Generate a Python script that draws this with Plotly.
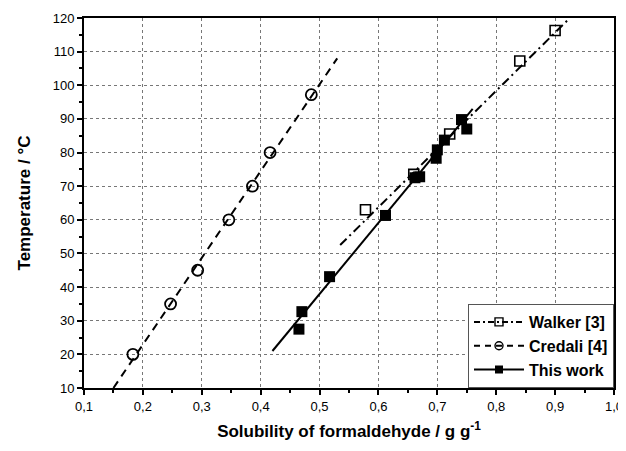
import plotly.graph_objects as go

# Data
walker_x = [0.578, 0.660, 0.721, 0.840, 0.900]
walker_y = [63.0, 73.5, 85.5, 107.2, 116.3]
walker_fit_x = [0.535, 0.925]
walker_fit_y = [52.5, 120.0]

credali_x = [0.183, 0.247, 0.293, 0.346, 0.386, 0.416, 0.486]
credali_y = [20.0, 35.0, 45.0, 60.0, 70.0, 80.0, 97.2]
credali_fit_x = [0.150, 0.530]
credali_fit_y = [10.0, 108.0]

work_x = [0.465, 0.470, 0.517, 0.612, 0.662, 0.670, 0.698, 0.700, 0.712, 0.741, 0.750]
work_y = [27.5, 32.7, 43.1, 61.3, 72.5, 72.8, 78.3, 80.8, 83.7, 89.8, 87.0]
work_fit_x = [0.420, 0.760]
work_fit_y = [21.0, 93.0]

legend_names = ["Walker [3]", "Credali [4]", "This work"]

x_ticks = [0.1, 0.2, 0.3, 0.4, 0.5, 0.6, 0.7, 0.8, 0.9, 1.0]
y_ticks = [10, 20, 30, 40, 50, 60, 70, 80, 90, 100, 110, 120]

FONT = "Liberation Sans, Arial, sans-serif"

fig = go.Figure()

# fit lines
fig.add_trace(go.Scatter(x=walker_fit_x, y=walker_fit_y, mode="lines",
                         line=dict(color="black", width=2, dash="9px,4px,2px,4px"),
                         showlegend=False, hoverinfo="skip"))
fig.add_trace(go.Scatter(x=credali_fit_x, y=credali_fit_y, mode="lines",
                         line=dict(color="black", width=2, dash="8px,6px"),
                         showlegend=False, hoverinfo="skip"))
fig.add_trace(go.Scatter(x=work_fit_x, y=work_fit_y, mode="lines",
                         line=dict(color="black", width=2),
                         showlegend=False, hoverinfo="skip"))

# data points
fig.add_trace(go.Scatter(x=walker_x, y=walker_y, mode="markers",
                         marker=dict(symbol="square-open", size=10, color="black",
                                     line=dict(width=1.6, color="black")),
                         showlegend=False))
fig.add_trace(go.Scatter(x=credali_x, y=credali_y, mode="markers",
                         marker=dict(symbol="circle-open", size=11, color="black",
                                     line=dict(width=1.8, color="black")),
                         showlegend=False))
fig.add_trace(go.Scatter(x=work_x, y=work_y, mode="markers",
                         marker=dict(symbol="square", size=11, color="black"),
                         showlegend=False))

# legend entries
fig.add_trace(go.Scatter(x=[None], y=[None], mode="lines+markers", name=legend_names[0],
                         line=dict(color="black", width=2, dash="6px,3px,2px,3px"),
                         marker=dict(symbol="square-open", size=8, color="black",
                                     line=dict(width=1.4, color="black"))))
fig.add_trace(go.Scatter(x=[None], y=[None], mode="lines+markers", name=legend_names[1],
                         line=dict(color="black", width=2, dash="6px,5px"),
                         marker=dict(symbol="circle-open", size=8, color="black",
                                     line=dict(width=1.4, color="black"))))
fig.add_trace(go.Scatter(x=[None], y=[None], mode="lines+markers", name=legend_names[2],
                         line=dict(color="black", width=2),
                         marker=dict(symbol="square", size=8, color="black")))

axis_common = dict(
    showline=True, linecolor="black", linewidth=2, mirror=True,
    ticks="outside", ticklen=5, tickwidth=1.5, tickcolor="black",
    showgrid=True, gridcolor="#777777", griddash="dot", gridwidth=1,
    zeroline=False, automargin=False, ticklabeloverflow="allow",
    tickfont=dict(family=FONT, size=13, color="black"),
)

fig.update_xaxes(range=[0.1, 1.0], tickvals=x_ticks, tickformat=".1f",
                 minor=dict(ticks="outside", ticklen=3, tickcolor="black", dtick=0.05,
                            tick0=0.1, showgrid=False),
                 title=dict(text="Solubility of formaldehyde / g g<sup>-1</sup>",
                            font=dict(family=FONT, size=17, color="black", weight="bold"),
                            standoff=13),
                 **axis_common)
fig.update_yaxes(range=[10, 120], tickvals=y_ticks,
                 minor=dict(ticks="outside", ticklen=3, tickcolor="black", dtick=5,
                            tick0=10, showgrid=False),
                 title=dict(text="Temperature / °C",
                            font=dict(family=FONT, size=17, color="black", weight="bold"),
                            standoff=18),
                 **axis_common)

# page body has an 8px margin, so the figure is sized/offset to compensate
fig.update_layout(
    width=618, height=443,
    margin=dict(l=76, r=12, t=10, b=63),
    plot_bgcolor="white", paper_bgcolor="white",
    separators=",.",
    font=dict(family=FONT, color="black"),
    legend=dict(x=1, xanchor="right", y=0, yanchor="bottom",
                bgcolor="white", bordercolor="#555555", borderwidth=1,
                font=dict(family=FONT, size=16, color="black", weight="bold"),
                itemwidth=50, tracegroupgap=0),
)

fig.write_html("out.html")
